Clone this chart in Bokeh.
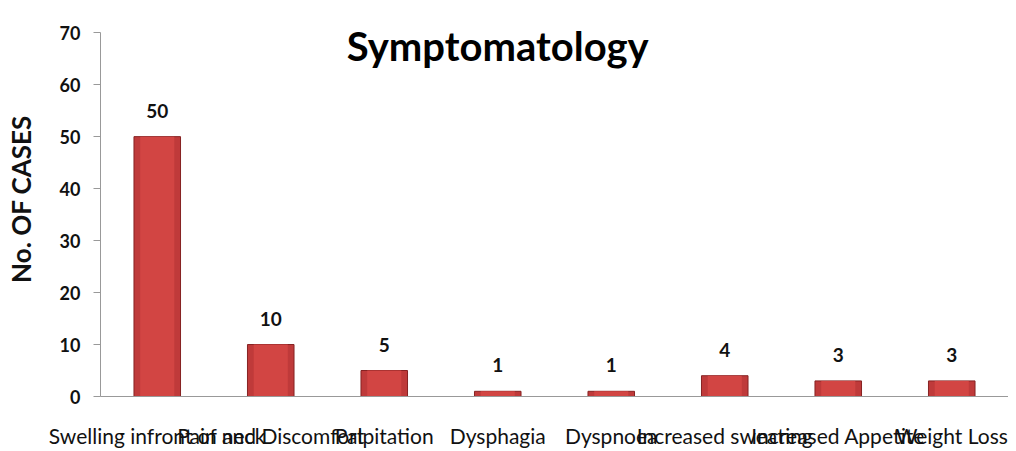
from bokeh.plotting import figure
from bokeh.models import ColumnDataSource, Range1d
from bokeh.core.properties import value
from bokeh.embed import file_html
from bokeh.resources import INLINE

categories = ["Swelling infront of neck", "Pain and Discomfort", "Palpitation", "Dysphagia",
              "Dyspnoea", "Increased sweating", "Increased Appetite", "Weight Loss"]
cases = [50, 10, 5, 1, 1, 4, 3, 3]
labels = [str(v) for v in cases]
y_ticks = [0, 10, 20, 30, 40, 50, 60, 70]
title_text = ["Symptomatology"]
title_category = ["Dysphagia"]
y_max = 70

src = ColumnDataSource(dict(cat=categories, val=cases, lab=labels))

p = figure(x_range=categories, y_range=Range1d(0, 76),
           frame_width=908, frame_height=395,
           output_backend="svg", toolbar_location=None,
           min_border_left=100, min_border_right=0, min_border_top=1, min_border_bottom=40)
p.outline_line_color = None
p.xgrid.grid_line_color = None
p.ygrid.grid_line_color = None
p.x_range.range_padding = 0

p.vbar(x="cat", top="val", width=0.41, source=src, fill_color="#bf3a3a",
       line_color="#862222", line_width=1)
p.vbar(x="cat", top="val", width=0.30, source=src, fill_color="#d24543",
       line_color=None)

p.text(x="cat", y="val", text="lab", source=src, text_align="center",
       text_baseline="bottom", y_offset=-19, text_font=value("Lato"),
       text_font_style="bold", text_font_size="19px", text_color="#111111")

p.text(x=title_category, y=[y_max], text=title_text, text_align="center",
       text_baseline="alphabetic", y_offset=13, text_font=value("Lato"),
       text_font_style="bold", text_font_size="40px", text_color="#000000")

p.yaxis.bounds = (0, y_max)
p.yaxis.ticker = y_ticks
p.yaxis.axis_label = "No. OF CASES"
p.yaxis.axis_label_text_font = "Lato"
p.yaxis.axis_label_text_font_style = "bold"
p.yaxis.axis_label_text_font_size = "26px"
p.yaxis.axis_label_text_color = "#111111"
p.yaxis.axis_label_standoff = 20
p.yaxis.major_label_text_font = "Lato"
p.yaxis.major_label_text_font_style = "bold"
p.yaxis.major_label_text_font_size = "18px"
p.yaxis.major_label_text_color = "#111111"
p.yaxis.major_tick_out = 7
p.yaxis.major_tick_in = 0
p.yaxis.minor_tick_line_color = None
p.yaxis.major_label_standoff = 13
p.yaxis.axis_line_color = "#999999"
p.yaxis.major_tick_line_color = "#999999"

p.xaxis.major_tick_line_color = None
p.xaxis.minor_tick_line_color = None
p.xaxis.axis_line_color = "#999999"
p.xaxis.major_label_text_font = "Lato"
p.xaxis.major_label_text_font_size = "21px"
p.xaxis.major_label_text_color = "#111111"
p.xaxis.major_label_standoff = 20
p.xaxis.major_label_orientation = "horizontal"

open("out.html", "w").write(file_html(p, INLINE))
